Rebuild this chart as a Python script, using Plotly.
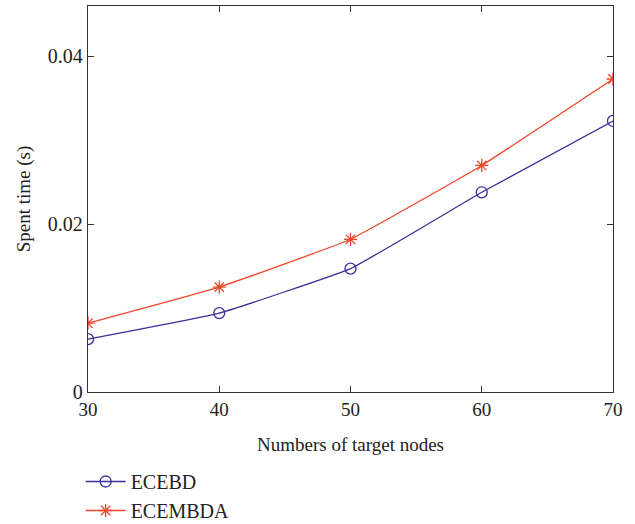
import plotly.graph_objects as go

nodes = [30, 40, 50, 60, 70]
ecebd = [0.0063, 0.0094, 0.0147, 0.0238, 0.0323]
ecembda = [0.0082, 0.0125, 0.0182, 0.0270, 0.0373]
y_ticks = [0, 0.02, 0.04]
y_tick_labels = ["0", "0.02", "0.04"]

font_family = "Liberation Serif"
axis_color = "#333333"
text_color = "#222222"

fig = go.Figure()
fig.add_trace(go.Scatter(
    x=nodes, y=ecebd, name="ECEBD", mode="lines+markers",
    line=dict(color="#3A2E9C", width=1.3, shape="spline", smoothing=0.3),
    marker=dict(symbol="circle-open", size=11, color="#3A2E9C", line=dict(width=1.3)),
))
fig.add_trace(go.Scatter(
    x=nodes, y=ecembda, name="ECEMBDA", mode="lines+markers",
    line=dict(color="#F0462A", width=1.3, shape="spline", smoothing=0.3),
    marker=dict(symbol="asterisk-open", size=11, color="#F0462A", line=dict(width=1.3, color="#F0462A")),
))

fig.update_layout(
    width=635, height=524,
    margin=dict(l=88, r=22, t=6, b=132, autoexpand=False),
    paper_bgcolor="white", plot_bgcolor="white",
    font=dict(family=font_family, size=18, color=text_color),
    showlegend=True,
    legend=dict(x=-0.014, y=(524 - 462) / 524, xref="paper", yref="container",
                xanchor="left", yanchor="top",
                bgcolor="rgba(0,0,0,0)", font=dict(family=font_family, size=20, color=text_color),
                itemwidth=40, tracegroupgap=0),
)
fig.update_xaxes(
    range=[30, 70], tickvals=nodes, ticks="inside", ticklen=6,
    showline=True, linecolor=axis_color, linewidth=1.3, mirror="ticks",
    tickcolor=axis_color, showgrid=False, zeroline=False,
    title=dict(text="Numbers of target nodes", standoff=18,
               font=dict(family=font_family, size=19, color=text_color)),
    tickfont=dict(family=font_family, size=19, color=text_color),
)
fig.update_yaxes(
    range=[0, 0.046], tickvals=y_ticks, ticktext=y_tick_labels, ticks="inside", ticklen=6,
    showline=True, linecolor=axis_color, linewidth=1.3, mirror="ticks",
    tickcolor=axis_color, showgrid=False, zeroline=False,
    title=dict(text="Spent time (s)", standoff=12,
               font=dict(family=font_family, size=19, color=text_color)),
    tickfont=dict(family=font_family, size=20, color=text_color),
)

fig.write_html("out.html")
